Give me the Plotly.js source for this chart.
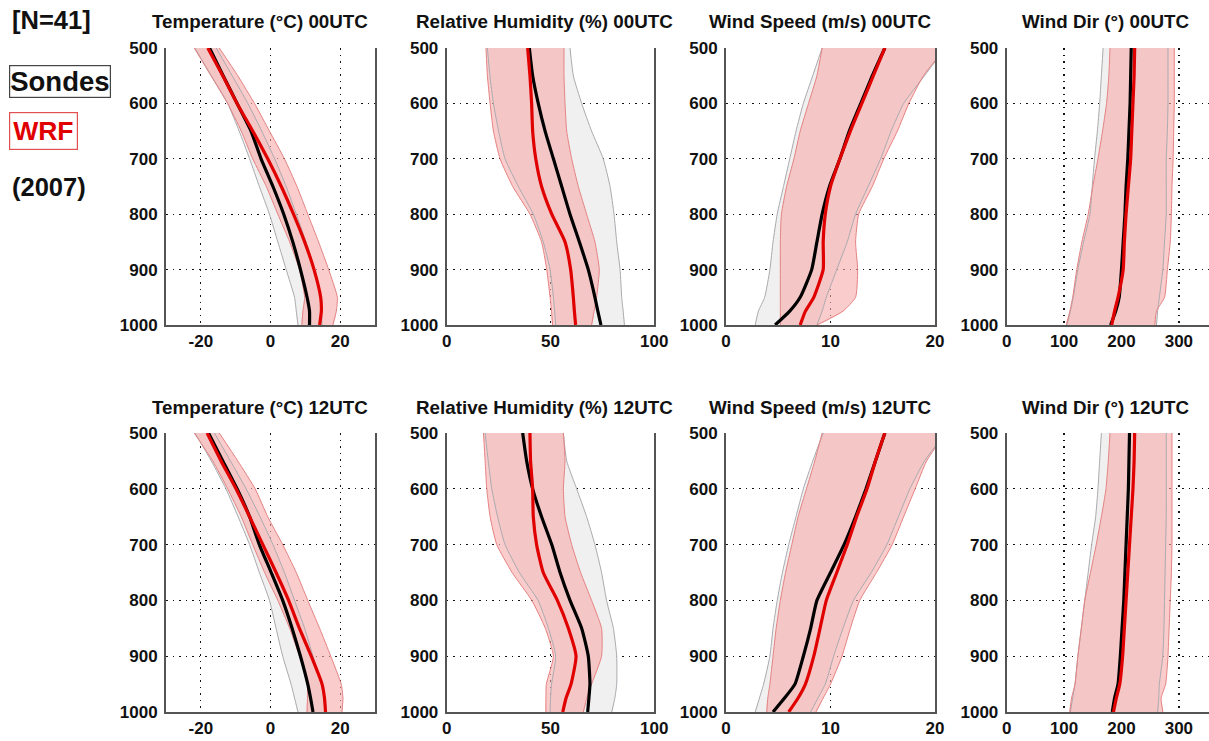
<!DOCTYPE html>
<html>
<head>
<meta charset="utf-8">
<script src="https://cdn.plot.ly/plotly-3.0.1.min.js"></script>
<style>html,body{margin:0;padding:0;background:#fff;overflow:hidden;}#chart{width:1209px;height:741px;}</style>
</head>
<body>
<div id="chart"></div>
<script>
// Pressure levels (hPa)
const pressure = [500, 550, 600, 650, 700, 750, 800, 850, 900, 950, 975, 1000];

// ---- 00UTC ----
const tempWrf00    = [-18.0,-13.7,-9.6,-5.1,-0.8,3.1,6.6,9.8,12.5,14.4,14.6,14.1];
const tempSnd00    = [-17.5,-13.6,-9.6,-5.6,-2.7,0.7,3.8,6.4,8.6,10.5,11.2,11.2];
const tempWrfLo00  = [-21.9,-17.1,-12.3,-8.4,-5.1,-1.2,2.1,5.5,8.3,9.8,9.3,9.0];
const tempWrfHi00  = [-14.7,-9.4,-4.6,-0.3,4.0,7.6,10.7,13.8,16.7,19.2,18.9,17.9];
const tempSndLo00  = [-21.7,-17.0,-12.3,-9.0,-6.0,-3.2,-0.3,2.1,4.5,6.9,7.4,7.9];
const tempSndHi00  = [-15.6,-11.0,-6.5,-2.5,1.2,4.5,7.4,10.2,12.7,14.4,14.6,14.8];

const rhWrf00      = [39.0,40.1,40.9,41.4,42.9,45.7,50.6,57.0,59.7,61.0,61.5,62.1];
const rhSnd00      = [39.8,41.4,44.1,47.4,51.4,55.4,59.4,63.9,68.2,71.4,72.8,74.3];
const rhWrfLo00    = [18.9,19.6,20.9,22.5,25.7,31.8,40.1,45.7,48.2,49.8,50.5,51.0];
const rhWrfHi00    = [56.5,56.5,57.0,57.8,60.2,63.4,67.4,71.4,73.5,72.2,71.0,69.8];
const rhSndLo00    = [19.6,20.8,22.5,25.0,28.1,34.5,41.7,46.5,49.8,51.4,52.0,52.5];
const rhSndHi00    = [59.4,61.0,65.0,69.8,75.4,78.7,80.6,81.9,83.5,84.3,85.0,85.6];

const wsWrf00      = [15.2,14.1,13.0,11.9,10.9,10.0,9.5,9.3,9.3,8.4,7.6,7.1];
const wsSnd00      = [15.2,14.0,12.9,11.8,10.9,9.9,9.2,8.7,8.2,7.1,6.1,4.7];
const wsWrfLo00    = [9.2,8.7,7.9,7.1,6.5,5.8,5.3,5.2,5.2,5.2,5.2,5.2];
const wsWrfHi00    = [21.0,18.9,17.5,16.4,15.1,14.0,12.7,12.4,12.6,12.4,11.2,8.7];
const wsSndLo00    = [9.2,8.3,7.4,6.7,6.1,5.5,4.9,4.5,4.2,3.7,3.1,2.8];
const wsSndHi00    = [21.0,19.0,17.0,15.8,14.8,13.6,12.4,11.6,10.6,9.6,9.2,8.7];

const wdWrf00      = [223,222,220,218,216,212,208,205,203,194,188,183];
const wdSnd00      = [217,216,215,213,211,208,206,203,200,196,190,181];
const wdWrfLo00    = [180,178,174,167,159,150,142,131,122,115,110,104];
const wdWrfHi00    = [292,292,292,291,290,288,287,285,280,275,261,258];
const wdSndLo00    = [168,165,162,158,153,149,145,134,124,116,111,105];
const wdSndHi00    = [281,281,281,280,278,278,278,275,272,266,263,261];

// ---- 12UTC ----
const tempWrf12    = [-18.2,-14.2,-9.9,-6.0,-2.2,1.6,5.2,8.3,11.7,14.8,15.5,15.8];
const tempSnd12    = [-17.8,-13.7,-9.6,-6.0,-3.2,0.2,3.5,6.2,8.6,10.7,11.5,12.2];
const tempWrfLo12  = [-21.9,-16.6,-12.3,-8.4,-5.1,-1.7,2.1,5.5,8.3,10.6,10.6,10.5];
const tempWrfHi12  = [-14.7,-9.4,-4.4,-0.8,3.5,7.4,10.7,14.1,17.3,20.3,20.8,20.5];
const tempSndLo12  = [-21.7,-17.0,-12.8,-9.3,-6.0,-3.2,-0.3,1.6,3.5,5.9,6.9,7.9];
const tempSndHi12  = [-16.1,-11.5,-7.0,-3.0,0.7,4.0,6.9,9.8,12.2,14.6,15.3,16.0];

const rhWrf12      = [40.1,40.4,41.4,41.7,43.3,46.5,53.3,58.6,62.3,59.9,57.5,55.9];
const rhSnd12      = [36.6,38.5,41.4,45.7,50.6,54.6,59.4,65.0,68.2,69.0,68.5,67.9];
const rhWrfLo12    = [17.7,18.5,19.3,20.9,24.1,31.5,41.0,47.5,51.4,48.0,47.8,47.8];
const rhWrfHi12    = [56.2,57.0,56.2,57.0,60.2,64.5,69.8,74.6,74.6,69.8,67.5,65.8];
const rhSndLo12    = [18.5,20.0,21.7,24.5,28.1,35.0,44.0,49.0,52.5,50.5,50.0,49.8];
const rhSndHi12    = [56.2,57.8,62.6,67.4,71.4,74.6,77.0,80.3,81.9,81.9,81.0,79.5];

const wsWrf12      = [15.2,14.3,13.5,12.5,11.6,10.6,9.6,9.0,8.4,7.6,6.9,6.0];
const wsSnd12      = [15.2,14.3,13.4,12.4,11.3,10.0,8.7,8.1,7.4,6.6,5.6,4.5];
const wsWrfLo12    = [9.2,8.5,7.7,6.9,6.3,5.7,5.2,4.8,4.5,4.2,4.0,3.9];
const wsWrfHi12    = [21.0,19.2,18.1,17.0,15.9,14.4,12.8,11.9,11.1,10.0,9.3,8.6];
const wsSndLo12    = [9.3,8.3,7.4,6.7,6.0,5.4,4.9,4.5,4.2,3.6,3.2,2.8];
const wsSndHi12    = [21.0,19.0,17.6,16.5,15.4,13.9,12.2,11.2,10.3,9.5,8.8,8.1];

const wdWrf12      = [223,222,220,217,214,211,208,205,202,197,191,186];
const wdSnd12      = [214,213,212,210,208,206,204,201,198,194,188,184];
const wdWrfLo12    = [180,177,173,165,156,146,136,130,124,119,113,110];
const wdWrfHi12    = [288,288,288,288,288,287,285,283,281,277,269,272];
const wdSndLo12    = [165,162,159,155,148,142,136,130,124,119,115,111];
const wdSndHi12    = [278,278,278,278,277,276,275,274,272,266,265,263];

// Titles and ticks
const panelTitles = [
  'Temperature (°C) 00UTC','Relative Humidity (%) 00UTC','Wind Speed (m/s) 00UTC','Wind Dir (°) 00UTC',
  'Temperature (°C) 12UTC','Relative Humidity (%) 12UTC','Wind Speed (m/s) 12UTC','Wind Dir (°) 12UTC'
];
const pressureTicks = [500, 600, 700, 800, 900, 1000];
const tempTicks = [-20, 0, 20];
const rhTicks = [0, 50, 100];
const wsTicks = [0, 10, 20];
const wdTicks = [0, 100, 200, 300];
const legendLabels = ['[N=41]', 'Sondes', 'WRF', '(2007)'];

const panels = [
  {wrf:tempWrf00, snd:tempSnd00, wlo:tempWrfLo00, whi:tempWrfHi00, slo:tempSndLo00, shi:tempSndHi00, ticks:tempTicks, range:[-30,30]},
  {wrf:rhWrf00, snd:rhSnd00, wlo:rhWrfLo00, whi:rhWrfHi00, slo:rhSndLo00, shi:rhSndHi00, ticks:rhTicks, range:[0,100]},
  {wrf:wsWrf00, snd:wsSnd00, wlo:wsWrfLo00, whi:wsWrfHi00, slo:wsSndLo00, shi:wsSndHi00, ticks:wsTicks, range:[0,20]},
  {wrf:wdWrf00, snd:wdSnd00, wlo:wdWrfLo00, whi:wdWrfHi00, slo:wdSndLo00, shi:wdSndHi00, ticks:wdTicks, range:[0,352.5]},
  {wrf:tempWrf12, snd:tempSnd12, wlo:tempWrfLo12, whi:tempWrfHi12, slo:tempSndLo12, shi:tempSndHi12, ticks:tempTicks, range:[-30,30]},
  {wrf:rhWrf12, snd:rhSnd12, wlo:rhWrfLo12, whi:rhWrfHi12, slo:rhSndLo12, shi:rhSndHi12, ticks:rhTicks, range:[0,100]},
  {wrf:wsWrf12, snd:wsSnd12, wlo:wsWrfLo12, whi:wsWrfHi12, slo:wsSndLo12, shi:wsSndHi12, ticks:wsTicks, range:[0,20]},
  {wrf:wdWrf12, snd:wdSnd12, wlo:wdWrfLo12, whi:wdWrfHi12, slo:wdSndLo12, shi:wdSndHi12, ticks:wdTicks, range:[0,352.5]}
];

const W = 1209, H = 741;
const colPx = [[166,375],[446.7,654.3],[726,935],[1006.7,1209]];
const titleCx = [259.5, 544, 820, 1105];
const rowPx = [[48,325],[433,712]];
const FONT = 'Liberation Sans, Arial, Helvetica, sans-serif';
const GRIDDASH = '1.5px,5px';
const SMOOTH = 0.5;

const traces = [];
const layout = {
  width: W, height: H,
  margin: {l:0, r:0, t:0, b:0},
  paper_bgcolor: '#fff', plot_bgcolor: '#fff',
  showlegend: false,
  annotations: [], shapes: []
};

function rev(a){ return a.slice().reverse(); }

panels.forEach((p, i) => {
  const n = i + 1;
  const xa = 'x' + (n === 1 ? '' : n), ya = 'y' + (n === 1 ? '' : n);
  const col = i % 4, row = Math.floor(i / 4);
  const cx = colPx[col], ry = rowPx[row];

  // sonde band fill
  traces.push({x: p.slo.concat(rev(p.shi)), y: pressure.concat(rev(pressure)), xaxis: xa, yaxis: ya,
    mode: 'lines', fill: 'toself', fillcolor: 'rgb(240,240,240)', line: {width: 0, shape: 'spline', smoothing: SMOOTH}, hoverinfo: 'skip'});
  // wrf band fill
  traces.push({x: p.wlo.concat(rev(p.whi)), y: pressure.concat(rev(pressure)), xaxis: xa, yaxis: ya,
    mode: 'lines', fill: 'toself', fillcolor: 'rgba(246,170,170,0.6)', line: {width: 0, shape: 'spline', smoothing: SMOOTH}, hoverinfo: 'skip'});
  // band edges
  [p.slo, p.shi].forEach(e => traces.push({x: e, y: pressure, xaxis: xa, yaxis: ya, mode: 'lines',
    line: {color: 'rgb(170,170,175)', width: 1, shape: 'spline', smoothing: SMOOTH}, hoverinfo: 'skip'}));
  [p.wlo, p.whi].forEach(e => traces.push({x: e, y: pressure, xaxis: xa, yaxis: ya, mode: 'lines',
    line: {color: 'rgb(228,130,130)', width: 1, shape: 'spline', smoothing: SMOOTH}, hoverinfo: 'skip'}));
  // means
  traces.push({x: p.snd, y: pressure, xaxis: xa, yaxis: ya, mode: 'lines', line: {color: '#000', width: 3.2, shape: 'spline', smoothing: SMOOTH}});
  traces.push({x: p.wrf, y: pressure, xaxis: xa, yaxis: ya, mode: 'lines', line: {color: '#e00000', width: 3.2, shape: 'spline', smoothing: SMOOTH}});

  const axKey = n === 1 ? '' : n;
  layout['xaxis' + axKey] = {
    domain: [cx[0] / W, cx[1] / W], anchor: ya, range: p.range,
    tickmode: 'array', tickvals: p.ticks, ticktext: p.ticks.map(v => String(v)),
    showgrid: true, gridcolor: '#111', griddash: GRIDDASH, gridwidth: 1.3, zeroline: false,
    showline: true, linecolor: '#555', linewidth: 2, mirror: false,
    ticks: '', ticklabelstandoff: 0,
    tickfont: {family: FONT, size: 17, color: '#111', weight: 'bold'}, fixedrange: true
  };
  layout['yaxis' + axKey] = {
    domain: [1 - ry[1] / H, 1 - ry[0] / H], anchor: xa, range: [1000, 500],
    tickmode: 'array', tickvals: pressureTicks, ticktext: pressureTicks.map(v => String(v)),
    showgrid: true, gridcolor: '#111', griddash: GRIDDASH, gridwidth: 1.3, zeroline: false,
    showline: true, linecolor: '#555', linewidth: 2, mirror: col < 3 ? true : false,
    ticks: '', ticklabelstandoff: 3,
    tickfont: {family: FONT, size: 17, color: '#111', weight: 'bold'}, fixedrange: true
  };

  layout.annotations.push({
    xref: 'paper', yref: 'paper', x: titleCx[col] / W,
    y: 1 - (row === 0 ? 22 : 407) / H, xanchor: 'center', yanchor: 'middle',
    text: '<b>' + panelTitles[i] + '</b>', showarrow: false,
    font: {family: FONT, size: 18.8, color: '#111'}
  });
});

// left-hand legend block
layout.annotations.push({xref:'paper', yref:'paper', x: 10/W, y: 1 - 20/H, xanchor:'left', yanchor:'middle',
  text:'<b>' + legendLabels[0] + '</b>', showarrow:false, font:{family:FONT, size:25.5, color:'#111'}});
layout.annotations.push({xref:'paper', yref:'paper', x: 9/W, y: 1 - 81/H, xanchor:'left', yanchor:'middle',
  text:'<b>' + legendLabels[1] + '</b>', showarrow:false, font:{family:FONT, size:27.5, color:'#111'},
  bordercolor:'#444', borderwidth:1.2, borderpad:0});
layout.annotations.push({xref:'paper', yref:'paper', x: 9/W, y: 1 - 131/H, xanchor:'left', yanchor:'middle',
  text:'<b>' + legendLabels[2] + '</b>', showarrow:false, font:{family:FONT, size:26.5, color:'#e00000'},
  bordercolor:'#e05050', borderwidth:1.2, borderpad:3});
layout.annotations.push({xref:'paper', yref:'paper', x: 10/W, y: 1 - 187/H, xanchor:'left', yanchor:'middle',
  text:'<b>' + legendLabels[3] + '</b>', showarrow:false, font:{family:FONT, size:25.5, color:'#111'}});

Plotly.newPlot('chart', traces, layout, {staticPlot: true, displayModeBar: false});
</script>
</body>
</html>
